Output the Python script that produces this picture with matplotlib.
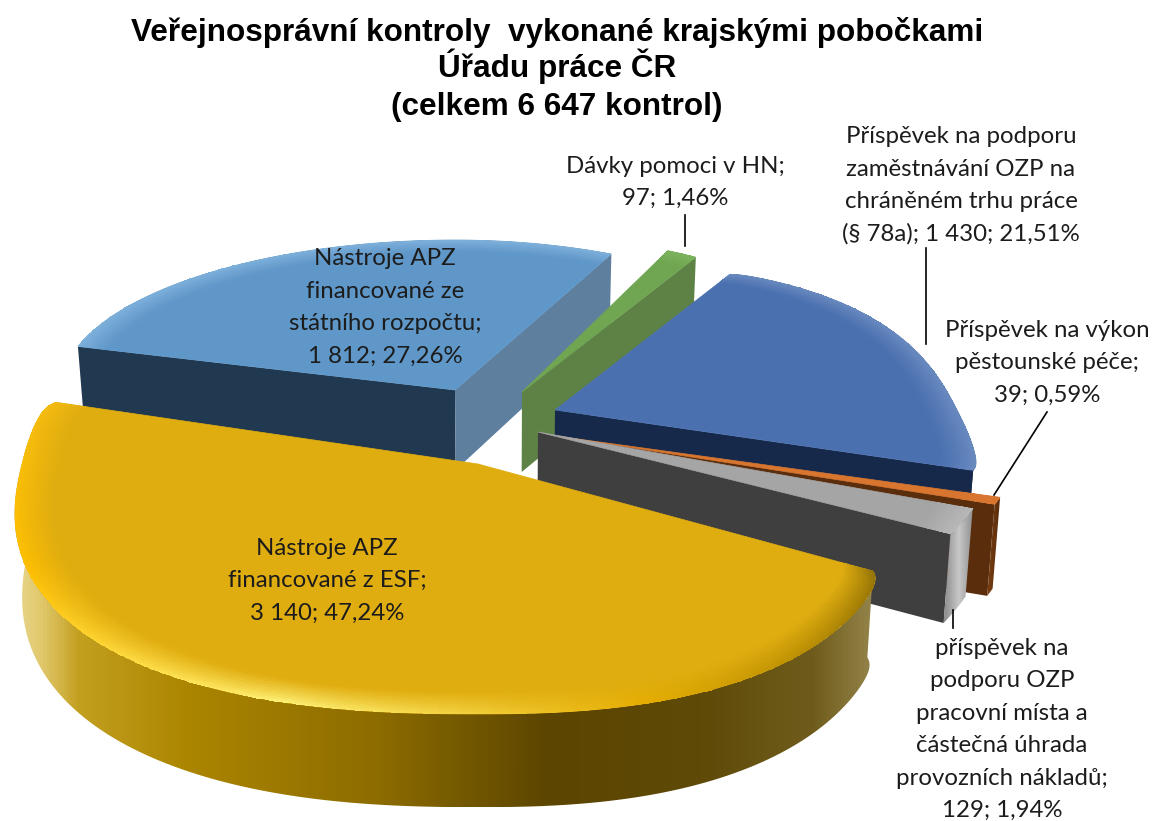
import numpy as np
import matplotlib
matplotlib.use("Agg")
import matplotlib.pyplot as plt
from matplotlib.colors import LinearSegmentedColormap, to_rgb
from matplotlib.patches import Polygon

title_lines = ["Veřejnosprávní kontroly  vykonané krajskými pobočkami", "Úřadu práce ČR", "(celkem 6 647 kontrol)"]
values = [97, 1430, 39, 129, 3140, 1812]
labels = ["Dávky pomoci v HN;\n97; 1,46%",
          "Příspěvek na podporu\nzaměstnávání OZP na\nchráněném trhu práce\n(§ 78a); 1 430; 21,51%",
          "Příspěvek na výkon\npěstounské péče;\n39; 0,59%",
          "příspěvek na\npodporu OZP\npracovní místa a\nčástečná úhrada\nprovozních nákladů;\n129; 1,94%",
          "Nástroje APZ\nfinancované z ESF;\n3 140; 47,24%",
          "Nástroje APZ\nfinancované ze\nstátního rozpočtu;\n1 812; 27,26%"]

# pixel layout of the fake 3d pie, one entry per slice
START = 25.0
apex = [(522, 392), (555, 410), (560, 436.5), (538, 432), (478, 464), (455, 390)]
radius_l = [345, 402, 462, 462, 456, 394]
radius_r = [345, 402, 462, 462, 410, 370]
tilt = [156, 182, 200, 226, 220, 150]
persp = [0.0, 0.231, 0.0, 0.0, 0.12, 0.0]
squareness = [2.0, 2.5, 2.0, 2.0, 2.4, 2.0]
round_ends = [0.0, 0.012, 0.0, 0.0, 0.02, 0.0]
depth = [80, 80, 88, 84, 81, 80]
label_pos = [(675, 182), (961, 185), (1047, 362), (1002, 729), (327, 580), (385, 307)]
leaders = [((685, 246), (685, 215)), ((925.5, 344), (925.5, 248)), ((994, 495), (1047, 412)), ((953, 628), (953, 610))]

top_col = ["#70a552", "#4a70b0", "#d8762f", "#a5a5a5", "#e0ad10", "#5f97c8"]
rim_col = [["#7cb45c"], ["#6a8abf"], ["#d8762f"], ["#b8b8b8"],
           ["#8f7006", "#e5ad00", "#fff27a", "#ffc000", "#f5bc10"], ["#7fb0dc"]]
end_face = ["#5e8246", "#17294a", "#5a2d0c", "#3f3f3f", None, "#5f7f9f"]
start_face = [None, None, None, None, None, "#203850"]
wall = [None,
        [(0, "#17294a"), (1, "#17294a")],
        [(0, "#7a3f12"), (1, "#5a2d0c")],
        [(0, "#8c8c8c"), (0.5, "#c8c8c8"), (1, "#8c8c8c")],
        [(0, "#e8d68a"), (0.03, "#dfc668"), (0.07, "#c4a020"), (0.2, "#ab8500"), (0.42, "#8d6c00"),
         (0.62, "#5c4500"), (0.8, "#5f4a08"), (0.93, "#6f5c1c"), (1, "#94844a")],
        None]

shares = np.array(values) / sum(values) * 360
ends = START + np.cumsum(shares)
starts = ends - shares


def rim(i, theta, r=1.0):
    # theta clockwise from 12 o'clock, degrees
    t = np.radians(theta)
    x, y = np.sin(t), np.cos(t)
    n = squareness[i]
    r = r * (abs(x) ** n + abs(y) ** n) ** (-1 / n)
    # soften the outer corners of the big slices
    d = min(theta - starts[i], ends[i] - theta)
    r = r * (1 - round_ends[i] * np.exp(-d / 1.5))
    x, y = x * r, y * r
    w = 1 + persp[i] * y
    rad = radius_r[i] if x >= 0 else radius_l[i]
    return apex[i][0] + rad * x / w, apex[i][1] - tilt[i] * y / w


def drop(i, p):
    # push a top point down by the pie thickness
    d = depth[i] * (1 + 0.0006 * (p[1] - apex[i][1]))
    return 500 + (p[0] - 500) * 0.985, p[1] + d


def grad_fill(ax, poly, stops, zorder):
    poly = np.array(poly)
    cmap = LinearSegmentedColormap.from_list("g", stops)
    x0, x1 = poly[:, 0].min(), poly[:, 0].max()
    y0, y1 = poly[:, 1].min(), poly[:, 1].max()
    im = ax.imshow(np.linspace(0, 1, 256)[None, :], cmap=cmap, extent=(x0, x1, y1, y0),
                   aspect="auto", zorder=zorder, interpolation="bilinear")
    clip = Polygon(poly, closed=True, transform=ax.transData, facecolor="none", edgecolor="none")
    ax.add_patch(clip)
    im.set_clip_path(clip)


def top_face(ax, i, th, zorder):
    # flat wedge, then a bevel band between rim colour and face colour
    arc = [rim(i, a) for a in th]
    face = to_rgb(top_col[i])
    ax.add_patch(Polygon([apex[i]] + arc, fc=face, ec=face, lw=0.5, zorder=zorder))
    stops = rim_col[i] if len(rim_col[i]) > 1 else rim_col[i] * 2
    cmap = LinearSegmentedColormap.from_list("r", stops)
    rs = np.linspace(1, 0.92, 15)
    xy = np.array([[rim(i, a, r) for a in th] for r in rs])
    frac = (np.arange(len(th) - 1) + 0.5) / (len(th) - 1)
    edge = cmap(frac)[:, :3]
    mix = ((np.arange(len(rs) - 1) + 0.5) / (len(rs) - 1))[:, None, None] ** 0.9
    colors = edge[None, :, :] * (1 - mix) + np.array(face)[None, None, :] * mix
    ax.pcolormesh(xy[:, :, 0], xy[:, :, 1], colors, shading="flat", antialiased=False,
                  linewidth=0, zorder=zorder + 0.01, rasterized=True)


fig = plt.figure(figsize=(11.55, 8.21), dpi=100)
ax = fig.add_axes([0, 0, 1, 1])

for i in [5, 0, 1, 2, 3, 4]:
    z = 2 + i if i != 5 else 1
    th = np.linspace(starts[i], ends[i], max(12, int(shares[i] * 2)))
    arc = [rim(i, a) for a in th]
    a0 = apex[i]

    if start_face[i]:
        p = [a0, arc[0], drop(i, arc[0]), drop(i, a0)]
        ax.add_patch(Polygon(p, fc=start_face[i], ec="none", zorder=z))
    if end_face[i]:
        p = [a0, arc[-1], drop(i, arc[-1]), drop(i, a0)]
        ax.add_patch(Polygon(p, fc=end_face[i], ec="none", zorder=z))
    if wall[i]:
        p = arc + [drop(i, q) for q in arc[::-1]]
        grad_fill(ax, p, wall[i], z)
    top_face(ax, i, th, z + 0.1)

for a, b in leaders:
    ax.plot([a[0], b[0]], [a[1], b[1]], color="black", lw=1.2, zorder=20)

for txt, pos in zip(labels, label_pos):
    rows = txt.split("\n")
    for k, row in enumerate(rows):
        y = pos[1] + (k - (len(rows) - 1) / 2) * 32.4 + 7
        ax.text(pos[0], y, row, ha="center", va="baseline", family="Lato", fontsize=17.3,
                color="#1c1c1c", zorder=21)

for row, y in zip(title_lines, [41, 77, 115]):
    ax.text(557, y, row, ha="center", va="baseline", family="Liberation Sans", fontweight="bold",
            fontsize=22.7, color="black", zorder=21)

ax.set_xlim(0, 1155)
ax.set_ylim(821, 0)
ax.axis("off")
fig.savefig("out.png", dpi=100)
